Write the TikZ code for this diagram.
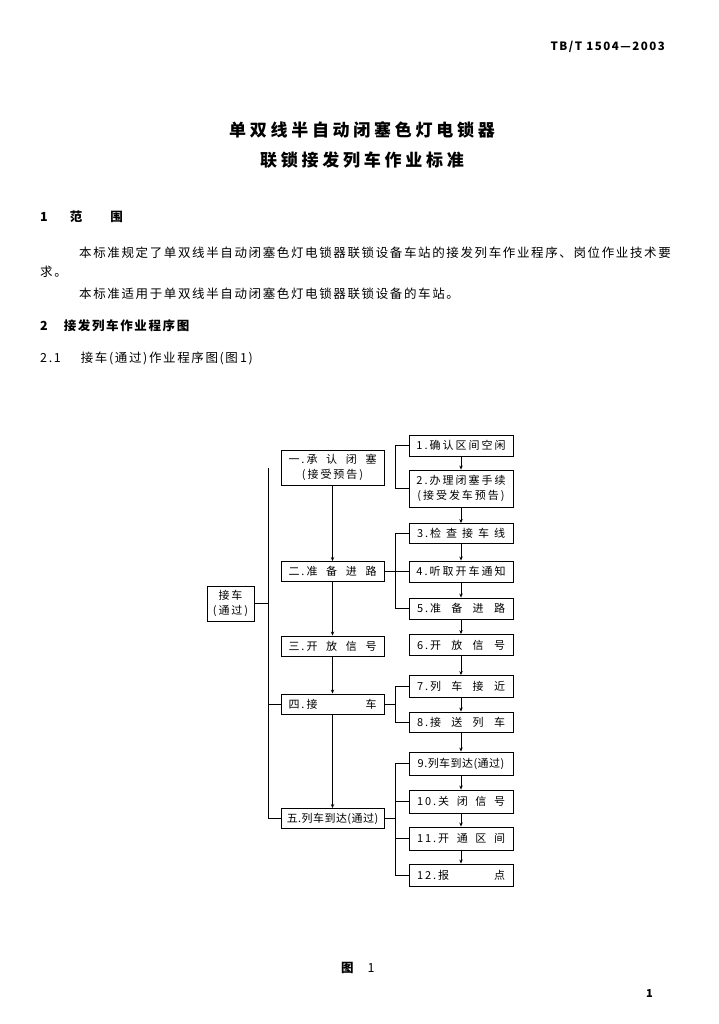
\documentclass[tikz,border=0pt]{standalone}
\usepackage{fontspec}
\setmainfont{Noto Sans CJK SC}
\newfontfamily\bodyfont[LetterSpace=13]{Noto Sans CJK SC}
\newfontfamily\titlefont[LetterSpace=22]{Noto Sans CJK SC}
\newfontfamily\boxfont[LetterSpace=18]{Noto Sans CJK SC}
\newfontfamily\tightfont[LetterSpace=4]{Noto Sans CJK SC}
\usetikzlibrary{arrows.meta,positioning}
\newcommand{\spreadbox}[1]{\makebox[88pt][s]{#1}}
\tikzset{
  arrow/.style={-{Stealth[length=4pt,width=3.4pt]},draw=black,line width=0.9pt},
  link/.style={draw=black,line width=0.9pt},
  stepbox/.style={rectangle,draw=black,line width=0.9pt,inner sep=0pt,align=center,
    font=\boxfont\fontsize{11}{15}\selectfont},
  midbox/.style={stepbox,minimum width=103pt,minimum height=20pt},
  subbox/.style={stepbox,minimum width=104pt,minimum height=21pt},
  longlabel/.style={font=\tightfont\fontsize{11}{15}\selectfont},
  bodytext/.style={anchor=west,inner sep=0pt,font=\bodyfont\fontsize{12.5}{15}\selectfont},
  headtext/.style={bodytext,font=\bodyfont\bfseries\fontsize{12.5}{15}\selectfont},
  title/.style={inner sep=0pt,font=\titlefont\bfseries\fontsize{17}{20}\selectfont},
}

\begin{document}
\begin{tikzpicture}[x=1pt,y=-1pt]

\fill[white] (0,0) rectangle (718,1024);
\useasboundingbox (0,0) rectangle (718,1024);

\node[bodytext,anchor=east,font=\bodyfont\bfseries\fontsize{11.5}{14}\selectfont] (std) at (665,47) {TB/T\ 1504—2003};

\node[title] (title1) at (362,130) {单双线半自动闭塞色灯电锁器};
\node[title] (title2) at (362,160) {联锁接发列车作业标准};

\node[headtext] (sec1) at (40,217) {1\hspace{22pt}范\hspace{28pt}围};
\node[bodytext] (para1) at (79,253) {本标准规定了单双线半自动闭塞色灯电锁器联锁设备车站的接发列车作业程序、岗位作业技术要};
\node[bodytext] (para1b) at (40,272) {求。};
\node[bodytext] (para2) at (79,294) {本标准适用于单双线半自动闭塞色灯电锁器联锁设备的车站。};
\node[headtext] (sec2) at (40,326) {2\hspace{16pt}接发列车作业程序图};
\node[bodytext] (sec21) at (40,358) {2.1\hspace{20pt}接车(通过)作业程序图(图\,1)};

% main steps
\node[midbox,minimum height=35pt] (m1) at (332.5,467.5) {\spreadbox{一.承\hfill 认\hfill 闭\hfill 塞}\\(接受预告)};
\node[midbox] (m2) at (332.5,571.5) {\spreadbox{二.准\hfill 备\hfill 进\hfill 路}};
\node[midbox] (m3) at (332.5,646) {\spreadbox{三.开\hfill 放\hfill 信\hfill 号}};
\node[midbox] (m4) at (332.5,704) {\spreadbox{四.接\hfill 车}};
\node[midbox,longlabel] (m5) at (332.5,818.5) {五.列车到达(通过)};

\node[stepbox,minimum width=47pt,minimum height=35pt] (jc) at (230.5,603.5) {接车\\(通过)};

% detail steps
\node[subbox] (r1) at (461,445.5) {1.确认区间空闲};
\node[subbox,minimum height=37pt] (r2) at (461,488.5) {2.办理闭塞手续\\(接受发车预告)};
\node[subbox,minimum height=20pt] (r3) at (461,533.5) {\spreadbox{3.检\hfill 查\hfill 接\hfill 车\hfill 线}};
\node[subbox] (r4) at (461,571.5) {4.听取开车通知};
\node[subbox] (r5) at (461,608.5) {\spreadbox{5.准\hfill 备\hfill 进\hfill 路}};
\node[subbox] (r6) at (461,645) {\spreadbox{6.开\hfill 放\hfill 信\hfill 号}};
\node[subbox,minimum height=22pt] (r7) at (461,686.5) {\spreadbox{7.列\hfill 车\hfill 接\hfill 近}};
\node[subbox,minimum height=20pt] (r8) at (461,722) {\spreadbox{8.接\hfill 送\hfill 列\hfill 车}};
\node[subbox,minimum height=23pt,longlabel] (r9) at (461,763.5) {9.列车到达(通过)};
\node[subbox,minimum height=23pt] (r10) at (461,801.5) {\spreadbox{10.关\hfill 闭\hfill 信\hfill 号}};
\node[subbox,minimum height=23pt] (r11) at (461,838.5) {\spreadbox{11.开\hfill 通\hfill 区\hfill 间}};
\node[subbox,minimum height=22pt] (r12) at (461,875) {\spreadbox{12.报\hfill 点}};

\draw[arrow] (m1.south) -- (m2.north);
\draw[arrow] (m2.south) -- (m3.north);
\draw[arrow] (m3.south) -- (m4.north);
\draw[arrow] (m4.south) -- (m5.north);

\draw[arrow] (r1.south) -- (r2.north);
\draw[arrow] (r2.south) -- (r3.north);
\draw[arrow] (r3.south) -- (r4.north);
\draw[arrow] (r4.south) -- (r5.north);
\draw[arrow] (r5.south) -- (r6.north);
\draw[arrow] (r6.south) -- (r7.north);
\draw[arrow] (r7.south) -- (r8.north);
\draw[arrow] (r8.south) -- (r9.north);
\draw[arrow] (r9.south) -- (r10.north);
\draw[arrow] (r10.south) -- (r11.north);
\draw[arrow] (r11.south) -- (r12.north);

% left brace
\coordinate (spineT) at ([xshift=-12pt]m1.west);
\coordinate (spineB) at ([xshift=-12pt]m5.west);
\draw[link] (spineT) -- (spineB) -- (m5.west);
\draw[link] (m4.west) -- (m4.west -| spineT);
\draw[link] (jc.east) -- (jc.east -| spineT);

% right braces
\coordinate (rail) at ([xshift=-13pt]r1.west);
\draw[link] (r1.west) -- (r1.west -| rail) |- (r2.west);
\draw[link] (r3.west) -- (r3.west -| rail) |- (r5.west);
\draw[link] (m2.east) -- (r4.west);
\draw[link] (r7.west) -- (r7.west -| rail) |- (r8.west);
\draw[link] (m4.east) -- (m4.east -| rail);
\draw[link] (r9.west) -- (r9.west -| rail) |- (r12.west);
\draw[link] (r10.west) -- (r10.west -| rail);
\draw[link] (r11.west) -- (r11.west -| rail);
\draw[link] (m5.east) -- (m5.east -| rail);

\node[bodytext] (fig) at (341,968) {{\bfseries 图}\hspace{14pt}1};
\node[bodytext,font=\bodyfont\bfseries\fontsize{11}{13}\selectfont] (pageno) at (646,993) {1};

\end{tikzpicture}
\end{document}
